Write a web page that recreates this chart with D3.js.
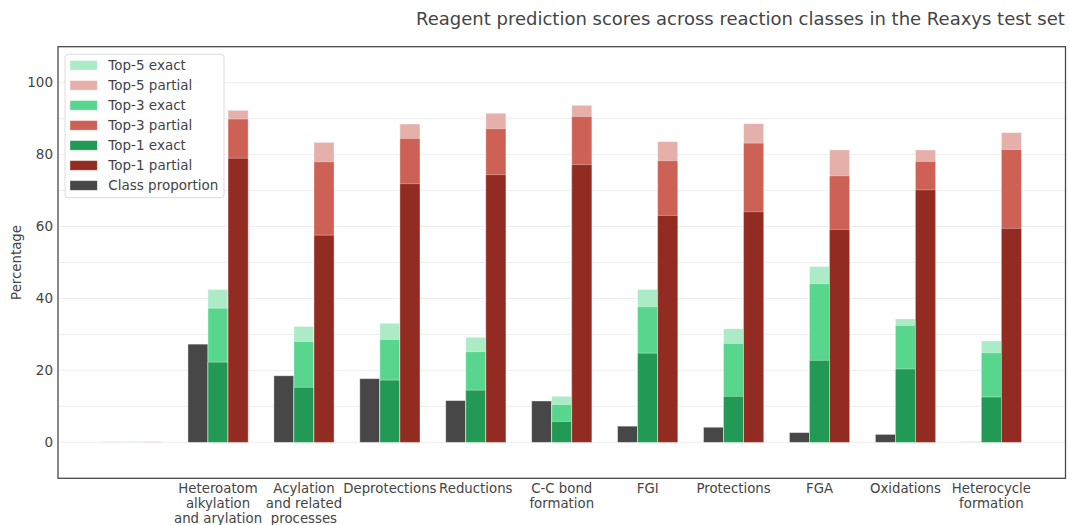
<!DOCTYPE html>
<html><head><meta charset="utf-8">
<script src="https://cdn.jsdelivr.net/npm/d3@7"></script>
<style>
body{margin:0;background:#fff;}
svg{display:block;font-family:"DejaVu Sans",sans-serif;}
</style></head>
<body><svg id="c" width="1070" height="525"></svg>
<script>
const categories = ["", "Heteroatom\nalkylation\nand arylation", "Acylation\nand related\nprocesses", "Deprotections", "Reductions", "C-C bond\nformation", "FGI", "Protections", "FGA", "Oxidations", "Heterocycle\nformation"];
const classProportion = [0, 27.3, 18.5, 17.7, 11.6, 11.5, 4.5, 4.2, 2.7, 2.2, 0.2];
const top1Exact  = [0, 22.3, 15.3, 17.3, 14.5, 5.8, 24.8, 12.8, 22.8, 20.4, 12.6];
const top3Exact  = [0, 37.3, 28.0, 28.6, 25.2, 10.5, 37.7, 27.5, 44.1, 32.5, 24.9];
const top5Exact  = [0, 42.5, 32.2, 33.1, 29.2, 12.8, 42.5, 31.6, 48.9, 34.3, 28.2];
const top1Partial = [0, 79.0, 57.6, 71.9, 74.4, 77.2, 63.1, 64.1, 59.2, 70.2, 59.5];
const top3Partial = [0, 89.9, 78.0, 84.5, 87.2, 90.6, 78.3, 83.2, 74.1, 78.1, 81.4];
const top5Partial = [0, 92.3, 83.4, 88.5, 91.5, 93.7, 83.6, 88.6, 81.3, 81.3, 86.1];
const yTicks = [0, 20, 40, 60, 80, 100];
const yGrid = [0, 10, 20, 30, 40, 50, 60, 70, 80, 90, 100];
const title = "Reagent prediction scores across reaction classes in the Reaxys test set";

const colors = {
  top5Exact: "#abebc6", top5Partial: "#e6b0aa",
  top3Exact: "#58d68d", top3Partial: "#cd6155",
  top1Exact: "#229954", top1Partial: "#922b21",
  cls: "#474747"
};

const svg = d3.select("#c");
const L = 58, R = 1065.5, T = 46.7, B = 478.3;
const x = d3.scaleBand().domain(d3.range(categories.length)).range([L, R]).paddingInner(0).paddingOuter(0.3625);
const y = d3.scaleLinear().domain([-10, 110]).range([B, T]);
const bw = x.bandwidth() * 0.2333;
const cx = i => x(i) + x.bandwidth() / 2;

// grid
svg.append("g").selectAll("line").data(yGrid).join("line")
  .attr("x1", L).attr("x2", R).attr("y1", d => y(d)).attr("y2", d => y(d))
  .attr("stroke", "#eeeeee").attr("stroke-width", 1);

const g = svg.append("g");
function bars(vals, offset, color) {
  g.append("g").selectAll("rect").data(vals).join("rect")
    .attr("x", (d, i) => cx(i) + offset * bw - bw / 2)
    .attr("width", bw)
    .attr("y", d => Math.min(y(d), y(0) - 0.6))
    .attr("height", d => Math.max(y(0) - y(d), 0.6))
    .attr("fill", color)
    .attr("fill-opacity", d => d > 0.5 ? 1 : 0.25)
    .attr("stroke", "#fff").attr("stroke-opacity", 0.45).attr("stroke-width", 0.8);
}
bars(classProportion, -1, colors.cls);
bars(top5Exact, 0, colors.top5Exact);
bars(top3Exact, 0, colors.top3Exact);
bars(top1Exact, 0, colors.top1Exact);
bars(top5Partial, 1, colors.top5Partial);
bars(top3Partial, 1, colors.top3Partial);
bars(top1Partial, 1, colors.top1Partial);

// frame
svg.append("rect").attr("x", L).attr("y", T).attr("width", R - L).attr("height", B - T)
  .attr("fill", "none").attr("stroke", "#4a4a4a").attr("stroke-width", 1.3);

// y axis
const yAxis = d3.axisLeft(y).tickValues(yTicks).tickSize(0).tickPadding(5);
const ya = svg.append("g").attr("transform", `translate(${L},0)`).call(yAxis);
ya.select(".domain").remove();
ya.selectAll("text").attr("font-size", "13.5px").attr("fill", "#444").attr("font-family", "DejaVu Sans");

svg.append("text").attr("transform", `translate(21,${(T + B) / 2}) rotate(-90)`)
  .attr("text-anchor", "middle").attr("font-size", "13.3px").attr("fill", "#444").text("Percentage");

// x labels
const xl = svg.append("g");
categories.forEach((c, i) => {
  const t = xl.append("text").attr("text-anchor", "middle").attr("font-size", "13.3px").attr("fill", "#444");
  c.split("\n").forEach((line, k) => {
    t.append("tspan").attr("x", cx(i)).attr("y", 493 + k * 15).text(line);
  });
});

// title
svg.append("text").attr("x", 416).attr("y", 25).attr("font-size", "18px").attr("fill", "#444").text(title);

// legend
const leg = [
  ["Top-5 exact", colors.top5Exact], ["Top-5 partial", colors.top5Partial],
  ["Top-3 exact", colors.top3Exact], ["Top-3 partial", colors.top3Partial],
  ["Top-1 exact", colors.top1Exact], ["Top-1 partial", colors.top1Partial],
  ["Class proportion", colors.cls]
];
const lg = svg.append("g");
lg.append("rect").attr("x", 65).attr("y", 54.3).attr("width", 159).attr("height", 143.4).attr("rx", 3)
  .attr("fill", "#fff").attr("fill-opacity", 0.8).attr("stroke", "#dcdcdc").attr("stroke-width", 1);
leg.forEach(([name, col], k) => {
  const yc = 65.3 + k * 20.03;
  lg.append("rect").attr("x", 70).attr("y", yc - 4.8).attr("width", 27.3).attr("height", 9.6).attr("fill", col)
    .attr("stroke", "#fff").attr("stroke-opacity", 0.45).attr("stroke-width", 0.8);
  lg.append("text").attr("x", 108.3).attr("y", yc + 4.8).attr("font-size", "13.5px").attr("fill", "#444").text(name);
});
</script></body></html>
